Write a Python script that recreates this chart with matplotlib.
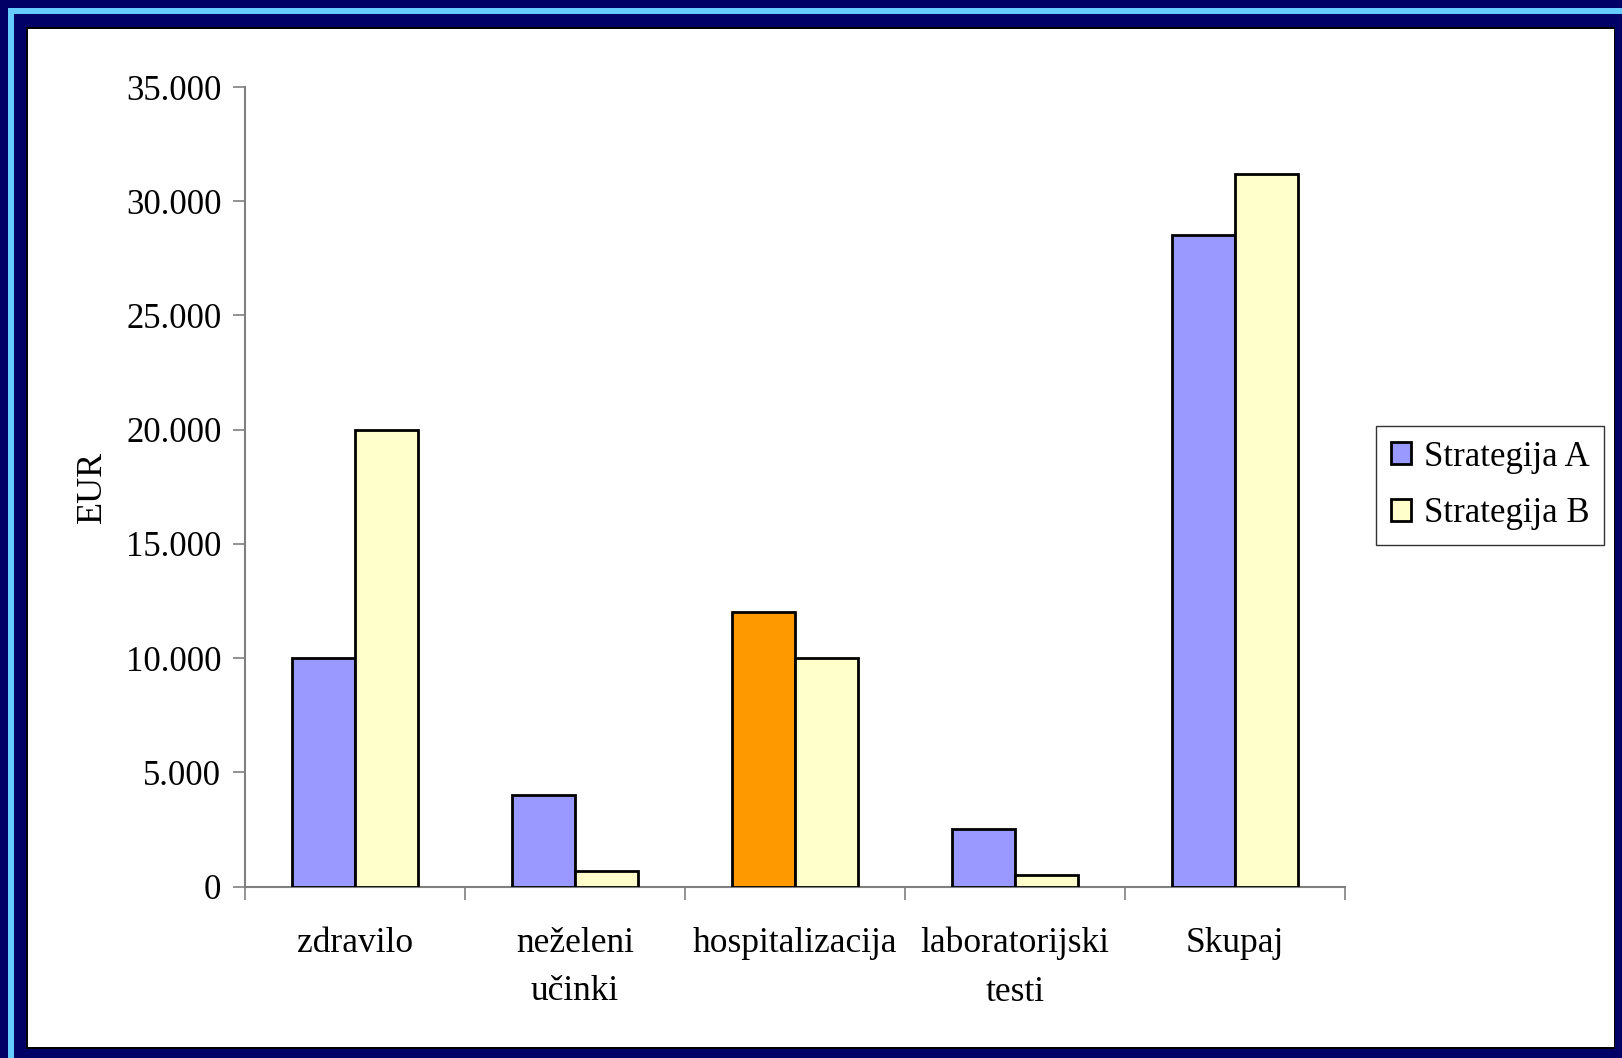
import numpy as np
import matplotlib
matplotlib.use("Agg")
from matplotlib import pyplot as plt
from matplotlib.patches import Rectangle
from matplotlib.ticker import FuncFormatter

categories = ["zdravilo", "neželeni\nučinki", "hospitalizacija",
              "laboratorijski\ntesti", "Skupaj"]
strategija_a = [10000, 4000, 12000, 2500, 28500]
strategija_b = [20000, 700, 10000, 500, 31200]
series_labels = ["Strategija A", "Strategija B"]

W, H = 1622, 1058
plt.rcParams['font.family'] = ['Liberation Serif', 'DejaVu Serif']

fig = plt.figure(figsize=(W / 100, H / 100), dpi=100, facecolor='#000066')


def px_rect(x0, y0, x1, y1, color):
    # rectangle given in pixel coords, origin top-left
    fig.patches.append(Rectangle((x0 / W, 1 - y1 / H), (x1 - x0) / W,
                                 (y1 - y0) / H, transform=fig.transFigure,
                                 facecolor=color, edgecolor='none',
                                 zorder=-5))


# slide frame
px_rect(8, 8, W, 14, '#66CCFF')
px_rect(8, 8, 13.5, H, '#66CCFF')
px_rect(26, 27, 1615, 1049, 'black')
px_rect(28, 29, 1614, 1047, 'white')

ax = fig.add_axes([245 / W, 1 - 886.5 / H, 1100 / W, (886.5 - 87) / H])
ax.set_facecolor('none')

index = np.arange(len(categories))
bar_width = 0.285
colors_a = ['#9999FF'] * len(categories)
colors_a[2] = '#FF9900'
ax.bar(index - bar_width / 2, strategija_a, bar_width, color=colors_a,
       edgecolor='black', linewidth=2, label=series_labels[0], zorder=3)
ax.bar(index + bar_width / 2, strategija_b, bar_width, color='#FFFFCC',
       edgecolor='black', linewidth=2, label=series_labels[1], zorder=3)

ax.set_xlim(-0.5, len(categories) - 0.5)
ax.set_ylim(0, 35000)
ax.set_yticks(np.arange(0, 35001, 5000))
ax.yaxis.set_major_formatter(
    FuncFormatter(lambda v, p: f"{int(v):,}".replace(",", ".")))
ax.set_xticks(index)
ax.set_xticklabels(categories, fontsize=25.5, linespacing=1.62)
ax.set_xticks(np.arange(-0.5, len(categories), 1), minor=True)
ax.tick_params(axis='x', which='major', length=0, pad=29)
ax.tick_params(axis='x', which='minor', length=9, width=1.2,
               color='#808080')
ax.tick_params(axis='y', length=9, width=1.2, color='#808080',
               labelsize=25, pad=8)
for side in ['top', 'right']:
    ax.spines[side].set_visible(False)
for side in ['left', 'bottom']:
    ax.spines[side].set_color('#808080')
    ax.spines[side].set_linewidth(1.5)
ax.set_ylabel("EUR", fontsize=26, labelpad=12)

handles, labels = ax.get_legend_handles_labels()
handles[0] = Rectangle((0, 0), 1, 1, facecolor='#9999FF',
                       edgecolor='black', linewidth=2)
leg = fig.legend(handles, labels, loc='upper left',
                 bbox_to_anchor=(1376 / W, 1 - 426 / H), fontsize=25,
                 frameon=True, fancybox=False, handlelength=0.6,
                 handleheight=0.6, handletextpad=0.35, borderpad=0.42,
                 labelspacing=0.68, borderaxespad=0)
leg.get_frame().set_edgecolor('black')
leg.get_frame().set_linewidth(1)

fig.savefig("out.png", dpi=100, facecolor=fig.get_facecolor())
